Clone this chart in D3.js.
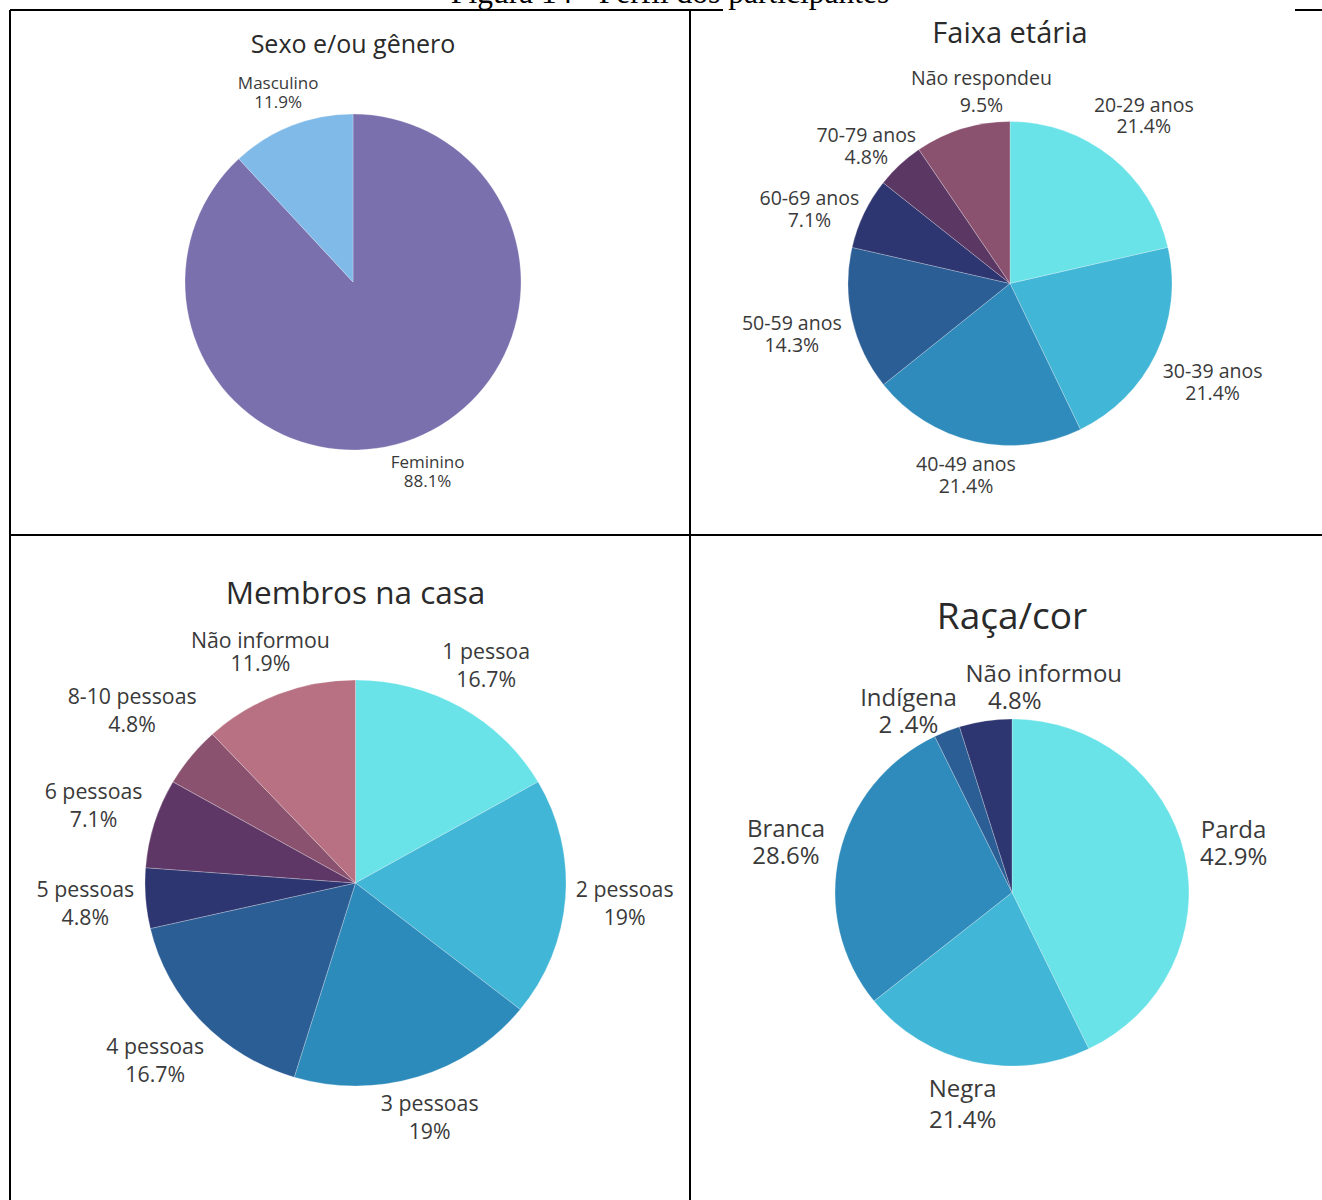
<!DOCTYPE html>
<html><head><meta charset="utf-8">
<script src="https://cdn.jsdelivr.net/npm/d3@7"></script>
<style>body{margin:0;background:#fff}svg{display:block}text{font-family:"Open Sans",sans-serif;fill:#3a3a3a}</style>
</head><body>
<svg id="c" width="1322" height="1200"></svg>
<script>
// ---- data ----
const sexoLabels = ["Feminino", "Masculino"];
const sexoValues = [88.1, 11.9];
const sexoText = ["88.1%", "11.9%"];

const idadeLabels = ["20-29 anos", "30-39 anos", "40-49 anos", "50-59 anos", "60-69 anos", "70-79 anos", "Não respondeu"];
const idadeValues = [21.4, 21.4, 21.4, 14.3, 7.1, 4.8, 9.5];
const idadeText = ["21.4%", "21.4%", "21.4%", "14.3%", "7.1%", "4.8%", "9.5%"];

const membrosLabels = ["1 pessoa", "2 pessoas", "3 pessoas", "4 pessoas", "5 pessoas", "6 pessoas", "8-10 pessoas", "Não informou"];
const membrosValues = [16.7, 19, 19, 16.7, 4.8, 7.1, 4.8, 11.9];
const membrosText = ["16.7%", "19%", "19%", "16.7%", "4.8%", "7.1%", "4.8%", "11.9%"];

const racaLabels = ["Parda", "Negra", "Branca", "Indígena", "Não informou"];
const racaValues = [42.9, 21.4, 28.6, 2.4, 4.8];
const racaText = ["42.9%", "21.4%", "28.6%", "2 .4%", "4.8%"];

// ---- layout / style ----
const svg = d3.select("#c");
// nudge: [dx, dy, lineHeight, secondLineDx]
const panels = [
  {title:"Sexo e/ou gênero", labels:sexoLabels, values:sexoValues, text:sexoText,
   colors:["#7b70ae","#7fbae8"], cx:353, cy:282, r:168, sx:1, titleY:53, titleSize:25, fs:17, lh:19, gap:13,
   nudge:{0:[-5,0.5], 1:[6,-2]}},
  {title:"Faixa etária", labels:idadeLabels, values:idadeValues, text:idadeText,
   colors:["#6ae3e8","#42b6d6","#2e8bbb","#2c5e96","#2d3670","#5b3764","#8a526f"], cx:1010, cy:283.5, r:162, sx:1, titleY:43, titleSize:29, fs:19.5, lh:22, gap:14,
   nudge:{0:[-7,-12.5,21], 1:[-1,11], 2:[6,-5], 3:[2,5], 4:[3,12], 5:[10,9], 6:[44,2,27]}},
  {title:"Membros na casa", labels:membrosLabels, values:membrosValues, text:membrosText,
   colors:["#6ae3e8","#42b6d6","#2d8bbb","#2c5e96","#2d3670","#5e3766","#8a526f","#b87182"], cx:355.5, cy:883, r:203, sx:1.037, titleY:604, titleSize:31.5, fs:21.3, lh:28, gap:18,
   nudge:{0:[-2,-3], 1:[0,0.5], 2:[-6,-5], 3:[-3,6], 4:[-1,1], 5:[-4,-5], 6:[0,-18], 7:[11,-2.5,23]}},
  {title:"Raça/cor", labels:racaLabels, values:racaValues, text:racaText,
   colors:["#6ae3e8","#42b6d6","#2e8bbb","#2c5e96","#2d3670"], cx:1012, cy:892.5, r:173.5, sx:1.02, titleY:629, titleSize:37, fs:24, lh:27, gap:16,
   nudge:{0:[4,-2], 1:[0,-6,31], 2:[-3,-3], 3:[-16,22], 4:[72,11,27,-29]}}
];

// table borders
const g0 = svg.append("g").attr("stroke","#000").attr("stroke-width",2);
[[10,10,723,10],[1295,10,1322,10],[10,535,1322,535],[10,10,10,1200],[690,10,690,1200]].forEach(l=>{
  g0.append("line").attr("x1",l[0]).attr("y1",l[1]).attr("x2",l[2]).attr("y2",l[3]);
});
// caption (cut off at top of the page)
svg.append("text").attr("x",670).attr("y",3).attr("text-anchor","middle")
  .style("font-family","'Liberation Serif','Times New Roman',serif").style("font-size","31.5px").style("fill","#000")
  .text("Figura 14 - Perfil dos participantes");

panels.forEach(p=>{
  const g = svg.append("g").attr("transform",`translate(${p.cx},${p.cy})`);
  const pie = d3.pie().sort(null).value(d=>d)(p.values);
  const arc = d3.arc().innerRadius(0).outerRadius(p.r);
  const color = d3.scaleOrdinal().domain(d3.range(p.values.length)).range(p.colors);
  g.append("g").attr("transform",`scale(${p.sx},1)`)
    .selectAll("path").data(pie).join("path")
    .attr("d",arc).attr("fill",(d,i)=>color(i)).attr("stroke","#ffffff").attr("stroke-opacity",0.35).attr("stroke-width",0.7);
  svg.append("text").attr("x",p.cx).attr("y",p.titleY).attr("text-anchor","middle")
    .style("font-size",p.titleSize+"px").style("fill","#2a2a2a").text(p.title);
  pie.forEach((d,i)=>{
    const a = (d.startAngle+d.endAngle)/2;
    const n = p.nudge[i]||[0,0];
    const lh = n[2]||p.lh;
    const t = g.append("text").attr("text-anchor","middle").style("font-size",p.fs+"px");
    t.append("tspan").attr("x",0).attr("dy",0).text(p.labels[i]);
    t.append("tspan").attr("x",n[3]||0).attr("dy",lh).text(p.text[i]);
    const bb = t.node().getBBox();
    const w = bb.width, h = bb.height;
    const R = p.r + p.gap;
    const px = Math.sin(a)*R, py = -Math.cos(a)*R;
    const cx = px + Math.sin(a)*w/2 + n[0];
    const cy = py - Math.cos(a)*h/2 + n[1];
    const ocx = bb.x + w/2, ocy = bb.y + h/2;
    t.attr("transform",`translate(${cx-ocx},${cy-ocy})`);
  });
});
</script>
</body></html>
